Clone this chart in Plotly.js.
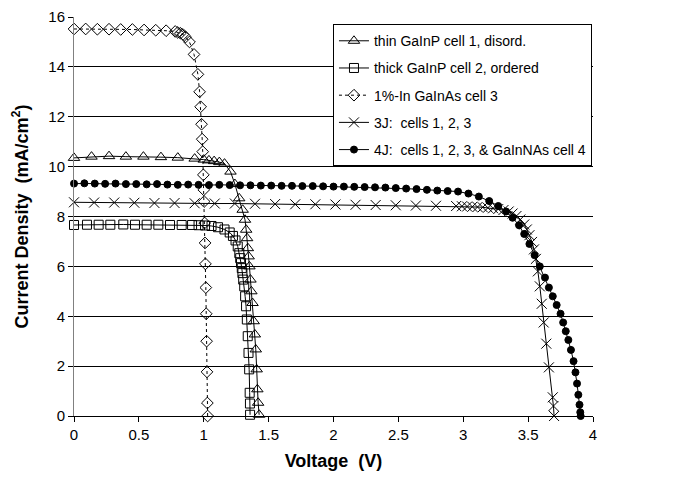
<!DOCTYPE html>
<html><head><meta charset="utf-8">
<script src="https://cdn.plot.ly/plotly-3.0.1.min.js"></script>
<style>html,body{margin:0;padding:0;background:#fff}#chart{width:680px;height:481px}</style>
</head><body><div id="chart"></div>
<script>
// Voltage (V) and current density (mA/cm^2)
const cell1V = [0,0.135,0.27,0.4,0.535,0.67,0.8,0.93,1.0,1.04,1.08,1.12,1.16,1.206,1.24,1.273,1.3,1.318,1.327,1.334,1.34,1.346,1.352,1.36,1.367,1.376,1.385,1.394,1.401,1.408,1.413,1.419,1.427];
const cell1J = [10.35,10.4,10.42,10.4,10.4,10.38,10.36,10.32,10.28,10.25,10.22,10.18,10.12,9.8,9.3,8.73,8.27,7.87,7.47,7.13,6.73,6.4,6.0,5.47,5.0,4.53,3.8,3.27,2.67,1.87,1.07,0.53,0.05];

const cell2V = [0,0.1,0.19,0.28,0.38,0.47,0.56,0.65,0.74,0.83,0.91,0.96,1.01,1.06,1.11,1.16,1.2,1.225,1.245,1.262,1.274,1.281,1.287,1.293,1.298,1.304,1.312,1.319,1.326,1.332,1.339,1.345,1.35,1.354,1.356,1.357];
const cell2J = [7.66,7.67,7.67,7.67,7.68,7.67,7.67,7.67,7.66,7.66,7.66,7.65,7.64,7.62,7.57,7.48,7.36,7.22,7.04,6.8,6.53,6.33,6.13,5.93,5.73,5.47,5.2,4.8,4.4,3.87,3.2,2.53,1.87,0.93,0.5,0.05];

const cell3V = [0,0.09,0.18,0.27,0.36,0.45,0.54,0.63,0.71,0.78,0.80,0.82,0.84,0.86,0.89,0.925,0.955,0.968,0.976,0.983,0.988,0.992,0.997,1.0,1.003,1.007,1.01,1.013,1.016,1.019,1.022,1.025,1.028,1.03];
const cell3J = [15.52,15.52,15.51,15.51,15.5,15.5,15.48,15.47,15.45,15.42,15.38,15.35,15.3,15.2,15.0,14.5,13.7,13.0,12.4,11.7,11.1,10.6,9.67,9.07,8.6,7.74,6.94,6.1,5.15,4.1,3.0,1.77,0.52,0];

const tandem3V = [0,0.155,0.31,0.465,0.62,0.775,0.93,1.085,1.24,1.395,1.55,1.705,1.86,2.015,2.17,2.325,2.48,2.635,2.79,2.945,2.99,3.03,3.07,3.11,3.15,3.19,3.23,3.27,3.31,3.35,3.38,3.41,3.44,3.47,3.49,3.51,3.53,3.545,3.56,3.575,3.59,3.605,3.62,3.64,3.66,3.69,3.695,3.70];
const tandem3J = [8.57,8.56,8.56,8.55,8.54,8.54,8.53,8.52,8.52,8.51,8.5,8.49,8.49,8.48,8.47,8.46,8.45,8.44,8.43,8.42,8.41,8.4,8.39,8.38,8.37,8.35,8.33,8.3,8.26,8.2,8.12,8.02,7.88,7.68,7.48,7.25,6.98,6.68,6.3,5.8,5.2,4.5,3.75,2.9,1.95,0.75,0.4,0];

const tandem4V = [0,0.08,0.16,0.24,0.32,0.40,0.48,0.56,0.64,0.72,0.80,0.88,0.96,1.04,1.12,1.20,1.28,1.36,1.44,1.52,1.60,1.68,1.76,1.84,1.92,2.00,2.08,2.16,2.24,2.32,2.40,2.48,2.56,2.64,2.72,2.80,2.88,2.96,3.04,3.12,3.2,3.27,3.33,3.38,3.43,3.47,3.51,3.55,3.59,3.63,3.66,3.69,3.72,3.75,3.77,3.79,3.81,3.83,3.85,3.865,3.877,3.887,3.896,3.902,3.905];
const tandem4J = [9.32,9.33,9.32,9.31,9.32,9.3,9.3,9.29,9.3,9.28,9.27,9.28,9.27,9.26,9.27,9.26,9.25,9.25,9.24,9.24,9.23,9.23,9.22,9.22,9.21,9.2,9.2,9.19,9.18,9.17,9.16,9.14,9.12,9.1,9.07,9.04,9.02,9.0,8.92,8.8,8.62,8.42,8.2,7.95,7.65,7.3,6.9,6.45,6.0,5.55,5.15,4.8,4.45,4.1,3.75,3.4,3.05,2.65,2.2,1.75,1.3,0.85,0.45,0.15,0];

const seriesNames = ['thin GaInP cell 1, disord.','thick GaInP cell 2, ordered','1%-In GaInAs cell 3','3J:\u00a0 cells 1, 2, 3','4J:\u00a0 cells 1, 2, 3, & GaInNAs cell 4'];
const xTitle = '<b>Voltage\u00a0 (V)</b>';
const yTitle = '<b>Current Density\u00a0 (mA/cm<sup>2</sup>)</b>';

const K = '#000';
function tr(i, x, y, symbol, size, dash){
  return {name: seriesNames[i], x: x, y: y, type:'scatter', mode:'lines+markers', cliponaxis:false,
    legendgroup:'g'+i,
    line:{color:K, width:1, dash: dash||'solid'},
    marker:{symbol:symbol, size:size, color:K, line:{color:K, width:1}}};
}
const data = [
  tr(0, cell1V, cell1J, 'triangle-up-open', 10),
  tr(1, cell2V, cell2J, 'square-open', 9),
  tr(2, cell3V, cell3J, 'diamond-open', 9, 'dot'),
  tr(3, tandem3V, tandem3J, 'x-thin-open', 10),
  tr(4, tandem4V, tandem4J, 'circle', 7)
];
const layout = {
  width:680, height:481,
  margin:{l:74, r:87, t:17, b:65},
  paper_bgcolor:'#fff', plot_bgcolor:'#fff',
  font:{family:'Arial, "Liberation Sans", sans-serif', size:15, color:K},
  showlegend:true,
  xaxis:{range:[0,4], tick0:0, dtick:0.5, ticks:'outside', ticklen:5, tickcolor:K,
    showline:true, linecolor:K, linewidth:1, showgrid:false, zeroline:false,
    tickfont:{size:15},
    title:{text:xTitle, font:{size:18}, standoff:12}},
  yaxis:{range:[0,16], tick0:0, dtick:2, ticks:'outside', ticklen:5, tickcolor:K,
    showline:true, linecolor:'#808080', linewidth:1,
    showgrid:true, gridcolor:K, gridwidth:1, zeroline:false,
    tickfont:{size:15},
    title:{text:yTitle, font:{size:18}, standoff:15}},
  legend:{x:0.499, y:0.982, xanchor:'left', yanchor:'top', bgcolor:'#fff',
    bordercolor:K, borderwidth:1, font:{size:14}, tracegroupgap:6, itemwidth:30}
};
Plotly.newPlot('chart', data, layout, {staticPlot:true, displayModeBar:false});
</script></body></html>
